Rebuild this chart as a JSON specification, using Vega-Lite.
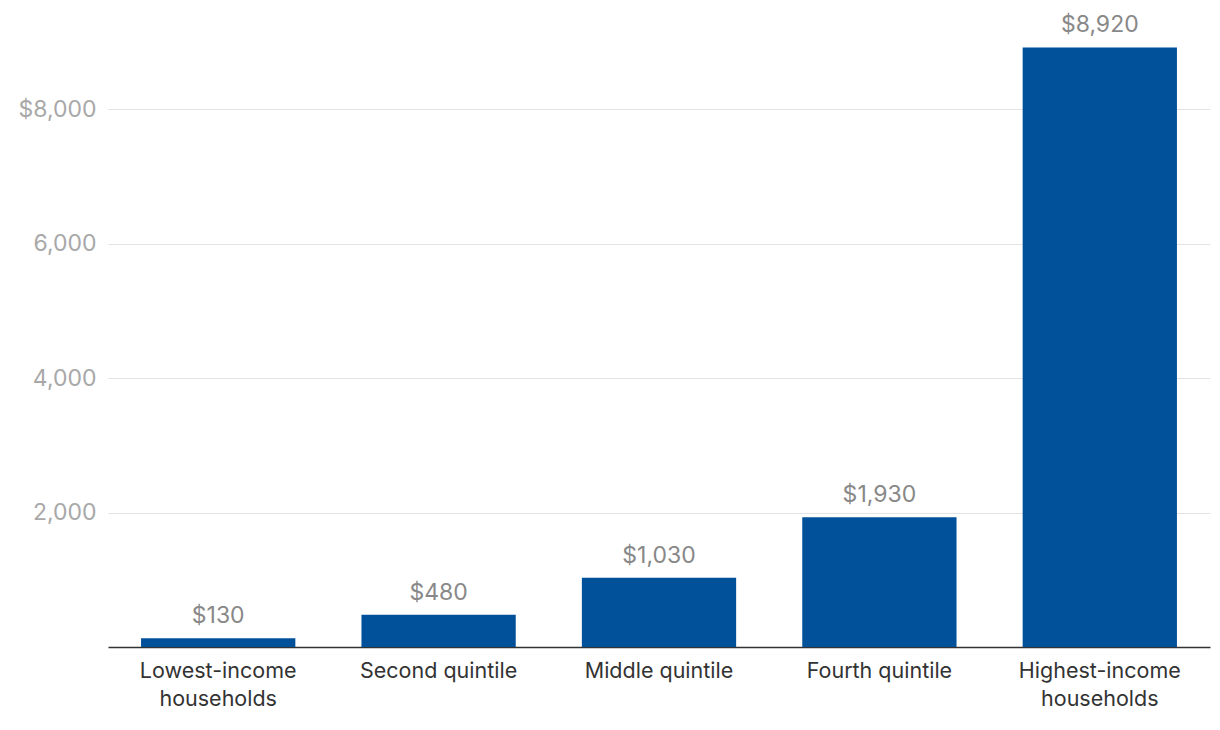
{
  "$schema": "https://vega.github.io/schema/vega-lite/v6.json",
  "autosize": "none",
  "width": 1102,
  "height": 605,
  "padding": {"left": 108, "top": 42, "right": 10, "bottom": 83},
  "background": "white",
  "config": {"view": {"stroke": null}, "font": "Inter"},
  "data": {"values": [
    {"group": "Lowest-income households", "value": 130, "label": "$130"},
    {"group": "Second quintile", "value": 480, "label": "$480"},
    {"group": "Middle quintile", "value": 1030, "label": "$1,030"},
    {"group": "Fourth quintile", "value": 1930, "label": "$1,930"},
    {"group": "Highest-income households", "value": 8920, "label": "$8,920"}
  ]},
  "encoding": {
    "x": {"field": "group", "type": "nominal", "sort": null,
      "scale": {"paddingInner": 0.3, "paddingOuter": 0.15},
      "axis": {"title": null, "labelAngle": 0, "ticks": false, "domainColor": "#333333", "domainWidth": 1.5,
        "labelColor": "#333333", "labelFontSize": 21.5, "labelPadding": 13, "labelLineHeight": 28,
        "labelFont": "Inter",
        "labelExpr": "datum.label == 'Lowest-income households' ? ['Lowest-income','households'] : datum.label == 'Highest-income households' ? ['Highest-income','households'] : datum.label"}},
    "y": {"field": "value", "type": "quantitative",
      "scale": {"domain": [0, 9000], "nice": false},
      "axis": {"title": null, "values": [2000, 4000, 6000, 8000], "domain": false, "ticks": false,
        "gridColor": "#e3e3e3", "gridWidth": 1.2, "labelColor": "#a8a8a8", "labelFontSize": 23, "labelPadding": 12,
        "labelFont": "Inter",
        "labelExpr": "datum.value == 8000 ? '$8,000' : datum.label"}}
  },
  "layer": [
    {"mark": {"type": "bar", "color": "#00509a"}},
    {"mark": {"type": "text", "baseline": "bottom", "dy": -10, "fontSize": 23, "color": "#888888", "font": "Inter"},
     "encoding": {"text": {"field": "label"}}}
  ]
}
